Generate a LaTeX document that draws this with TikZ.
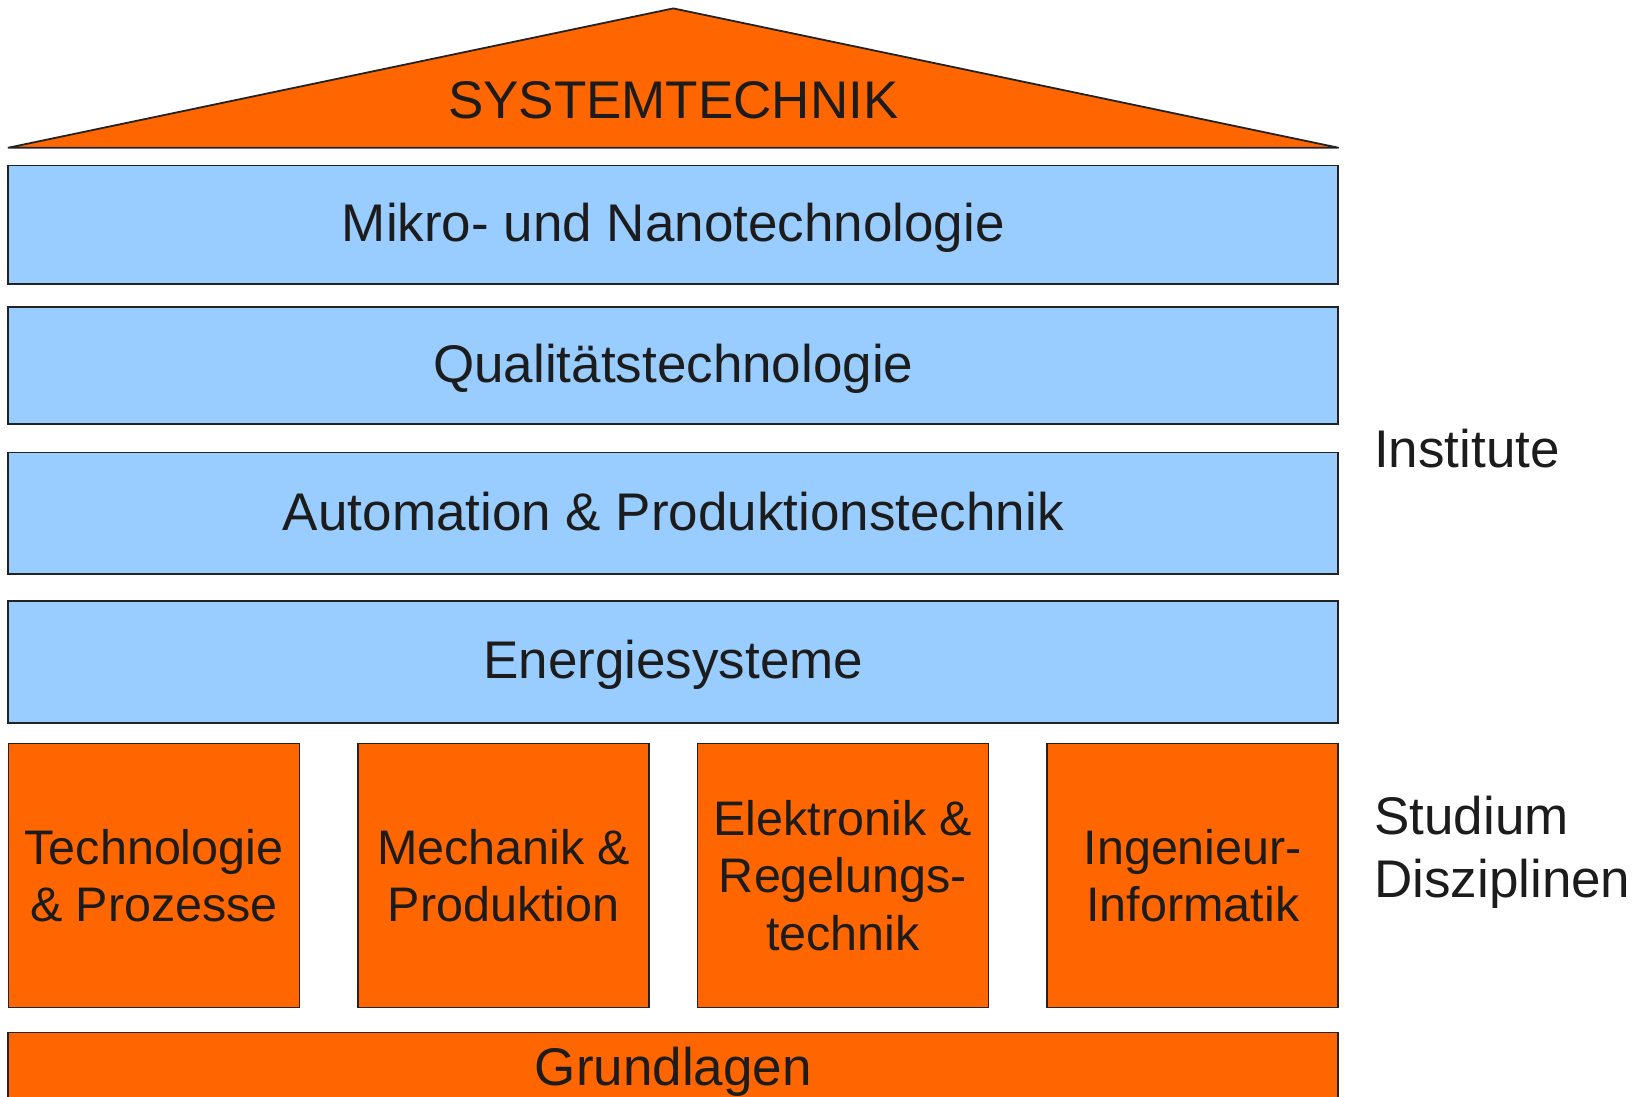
\documentclass[tikz,border=0pt]{standalone}
\usepackage{fontspec}
\setmainfont{Liberation Sans}
\usepackage{tikz}
\usetikzlibrary{calc,positioning}

\definecolor{roofOrange}{HTML}{FF6600}
\definecolor{instBlue}{HTML}{99CCFF}
\definecolor{lineGray}{HTML}{232323}
\definecolor{txtGray}{HTML}{1C1C1C}

\begin{document}
\begin{tikzpicture}[x=1pt,y=-1pt]
  \tikzstyle{inode} = [draw=lineGray, fill=instBlue, line width=1.8pt, rectangle, minimum width=1330pt, minimum height=118pt, inner sep=0pt, text height=34pt, text depth=0pt, text=txtGray, font=\fontsize{53}{60}\selectfont]
  \tikzstyle{snode} = [draw=lineGray, fill=roofOrange, line width=1.8pt, rectangle, minimum width=291pt, minimum height=264pt, inner sep=0pt, align=center, text=txtGray, font=\fontsize{48.5}{57.6}\selectfont]
  \tikzstyle{lnode} = [anchor=west, align=left, inner sep=0pt, text=txtGray, font=\fontsize{53}{63}\selectfont]

  \useasboundingbox (0,0) rectangle (1642,1097);
  \clip (0,0) rectangle (1642,1097);

  % roof
  \coordinate (rl) at (8.4,147.7);
  \coordinate (rp) at (673.3,8.4);
  \coordinate (rr) at (1338.3,147.7);
  \draw[draw=lineGray, fill=roofOrange, line width=1.8pt, line join=round] (rl) -- (rp) -- (rr) -- cycle;
  \node[text=txtGray, font=\fontsize{53}{60}\selectfont] (sys) at (673.3,100.5) {SYSTEMTECHNIK};

  % institutes
  \node[inode, minimum height=118.3pt] (i1) at (673.35,224.6) {Mikro- und Nanotechnologie};
  \node[inode, minimum height=117.3pt] (i2) at (673.35,365.5) {Qualitätstechnologie};
  \node[inode, minimum height=121.5pt] (i3) at (673.35,513.2) {Automation \& Produktionstechnik};
  \node[inode, minimum height=121.5pt] (i4) at (673.35,661.9) {Energiesysteme};

  % disciplines
  \node[snode] (d1) at (154,875.5) {Technologie\\\& Prozesse};
  \node[snode] (d2) at (503.7,875.5) {Mechanik \&\\Produktion};
  \node[snode] (d3) at (843,875.5) {Elektronik \&\\Regelungs-\\technik};
  \node[snode] (d4) at (1192.8,875.5) {Ingenieur-\\Informatik};

  % base
  \node[inode, fill=roofOrange, minimum height=71.5pt] (gl) at (673.35,1068.2) {Grundlagen};

  % side labels
  \node[lnode] (inst) at (1374,449) {Institute};
  \node[lnode] (stud) at (1374,852) {Studium\\Disziplinen};
\end{tikzpicture}
\end{document}
